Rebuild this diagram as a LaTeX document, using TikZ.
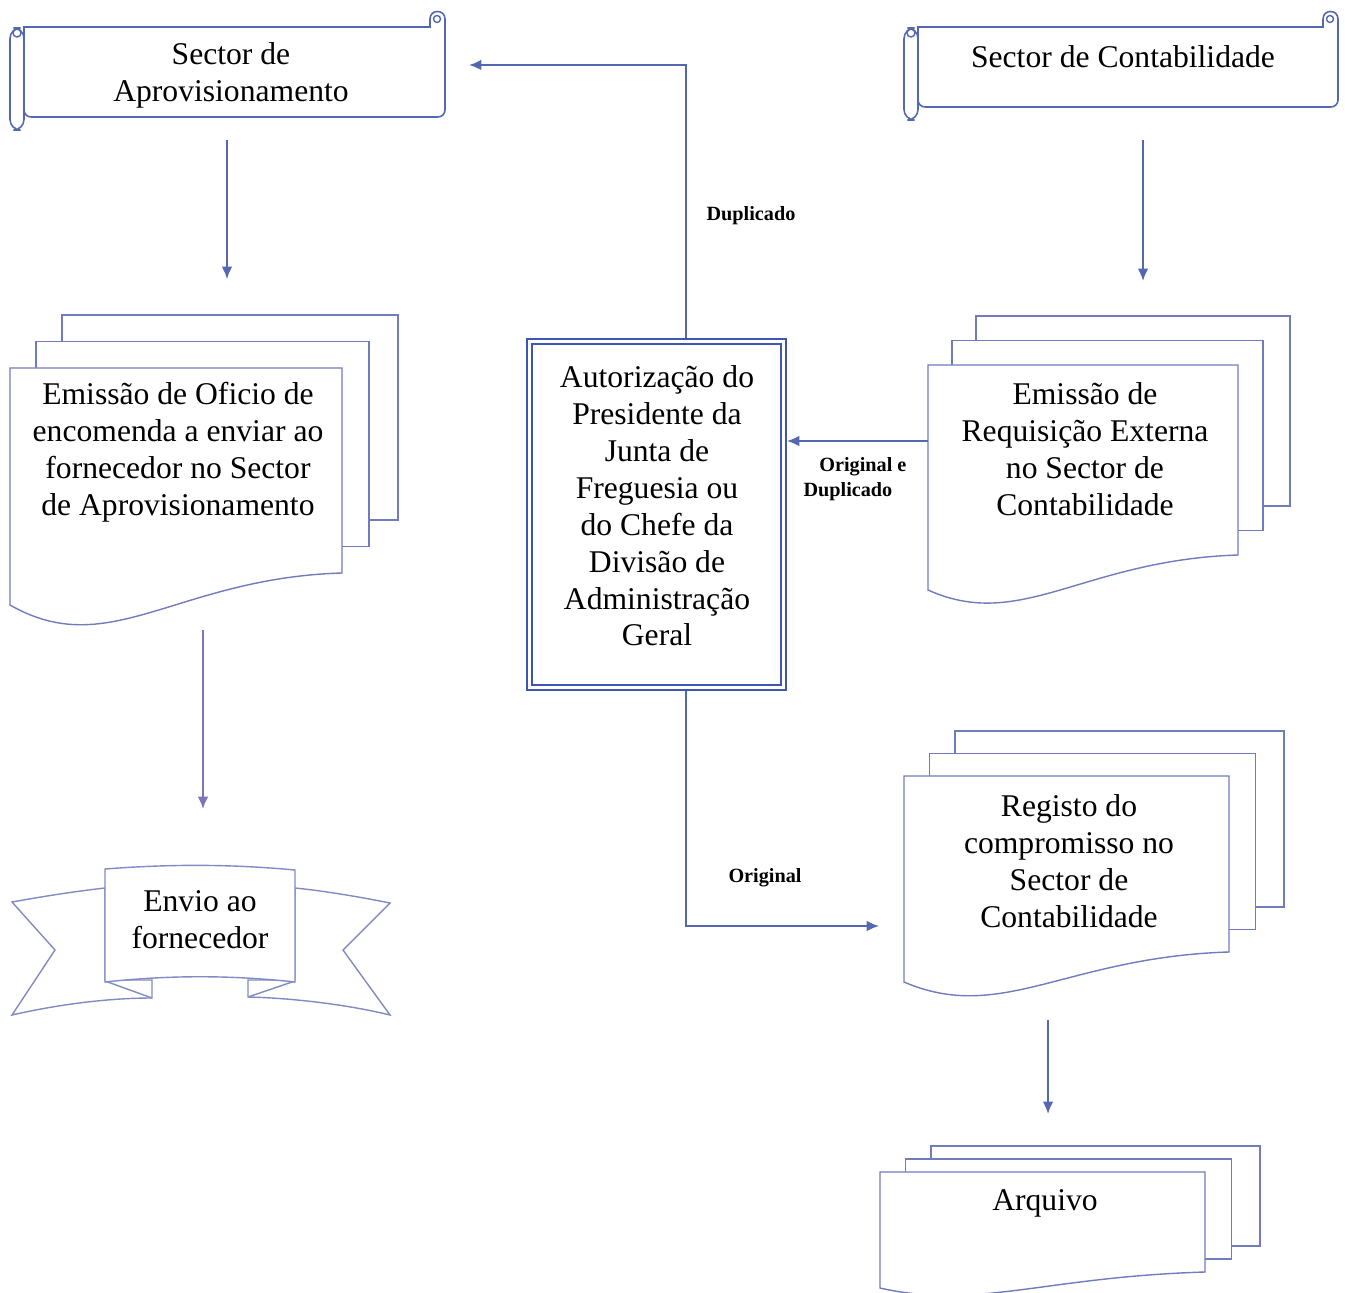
\documentclass[tikz,border=0pt]{standalone}
\usepackage{fontspec}
\setmainfont{Liberation Serif}
\usetikzlibrary{arrows.meta,calc}

\definecolor{lineblue}{RGB}{84,104,178}
\definecolor{docblue}{RGB}{112,124,190}
\definecolor{boxblue}{RGB}{62,86,178}
\definecolor{ribbonline}{RGB}{130,138,196}
\definecolor{violetline}{RGB}{128,116,184}

\tikzset{
  conn/.style={draw=lineblue, line width=1.1pt, -{Latex[length=7pt,width=6pt]}},
  docline/.style={draw=docblue, fill=white, line width=0.8pt},
  scrl/.style={draw=lineblue, fill=white, line width=0.9pt},
  ribbon/.style={draw=ribbonline, fill=white, line width=0.8pt},
  bigtext/.style={font=\fontsize{18}{21}\selectfont, align=center, inner sep=0pt},
  smalltext/.style={font=\fontsize{11.5}{14}\selectfont\bfseries, inner sep=0pt},
}

% stack of three pages: x1, ytop, x2, y bottom right, y bottom left, dx, dy, wave control y
\newcommand\docstack[8]{%
  \draw[docline] ({#1+2*#6},{#2-2*#7}) rectangle ({#3+2*#6+4},{#4-2*#7});
  \draw[docline] ({#1+#6},{#2-#7}) rectangle ({#3+#6+1},{#4-#7});
  \draw[docline] (#1,#2) -- (#3,#2) -- (#3,#4)
    .. controls ({0.5*(#1+#3)},{#4+5}) and ({#1+0.3*(#3-#1)},{#8}) .. (#1,#5) -- cycle;
}

% scroll banner: roll left x, body left x, body right x, top y, bottom y, roll bottom y
\newcommand\scrollbanner[6]{%
  \draw[scrl] (#2,#4) -- ({#3-15},#4) -- ({#3-15},{#4-8})
    .. controls ({#3-15},{#4-18}) and (#3,{#4-18}) .. (#3,{#4-8})
    [rounded corners=4] -- (#3,#5) -- (#2,#5) [sharp corners] -- cycle;
  \draw[draw=lineblue, line width=0.8pt] ({#3-8},{#4-8}) circle[radius=3.5];
  \draw[scrl, rounded corners=6] (#1,{#4+1}) rectangle (#2,#6);
  \draw[draw=lineblue, line width=0.8pt] ({0.5*(#1+#2)},{#4+6}) circle[radius=4];
}

\begin{document}
\begin{tikzpicture}[x=0.02cm, y=-0.02cm]
\useasboundingbox (0,0) rectangle (1345,1293);

% ---- header scrolls
\scrollbanner{10}{24}{445}{27}{117}{130}
\node[bigtext] (aprov) at (231,75) {Sector de\\Aprovisionamento};

\scrollbanner{904}{918}{1338}{27}{107}{120}
\node[bigtext] (contab) at (1123,57) {Sector de Contabilidade};

% ---- document stacks
\docstack{10}{368}{342}{573}{605}{26}{26.5}{662}
\node[bigtext] (oficio) at (178,452) {Emissão de Oficio de\\encomenda a enviar ao\\fornecedor no Sector\\de Aprovisionamento};

\docstack{928}{365}{1238}{555}{590}{24}{24.5}{632}
\node[bigtext] (requis) at (1085,449) {Emissão de\\Requisição Externa\\no Sector de\\Contabilidade};

\docstack{904}{776}{1229}{952}{982}{25.5}{22.5}{1024}
\node[bigtext] (registo) at (1069,861) {Registo do\\compromisso no\\Sector de\\Contabilidade};

\docstack{880}{1172}{1205}{1272}{1288}{25.5}{13}{1310}
\node[bigtext] (arquivo) at (1045,1203) {Arquivo};

% ---- authorisation box (double frame)
\node[draw=boxblue, line width=1.1pt, minimum width=5.18cm, minimum height=7.02cm, inner sep=0pt] (auth) at (656.5,514.5) {};
\draw[draw=boxblue, line width=1.1pt] ($(auth.north west)+(6,6)$) rectangle ($(auth.south east)+(-6,-6)$);
\node[bigtext] (authtext) at (657,506) {Autorização do\\Presidente da\\Junta de\\Freguesia ou\\do Chefe da\\Divisão de\\Administração\\Geral};

% ---- ribbon
\draw[ribbon] (105,888) .. controls (70,892) and (40,897) .. (12,902) -- (55,950) -- (12,1015)
  .. controls (60,1004) and (110,998) .. (152,998) -- (152,980) -- (105,980) -- cycle;
\draw[ribbon] (105,981) -- (152,998);
\draw[ribbon] (295,888) .. controls (325,891) and (360,897) .. (390,903) -- (343,950) -- (390,1015)
  .. controls (345,1004) and (290,998) .. (248,997) -- (248,980) -- (295,980) -- cycle;
\draw[ribbon] (295,981) -- (248,997);
\draw[ribbon] (105,869) .. controls (170,864) and (230,864) .. (295,870) -- (295,982)
  .. controls (230,975) and (170,975) .. (105,982) -- cycle;
\node[bigtext] (envio) at (200,920) {Envio ao\\fornecedor};

% ---- connector end points
\coordinate (aprovOut) at (227,140);
\coordinate (oficioIn) at (227,279);
\coordinate (contabOut) at (1143,140);
\coordinate (requisIn) at (1143,281);
\coordinate (oficioOut) at (203,630);
\coordinate (envioIn) at (203,809);
\coordinate (requisOut) at (928,441);
\coordinate (dupTurn) at (686,65);
\coordinate (aprovIn) at (469,65);
\coordinate (origTurn) at (686,926);
\coordinate (registoIn) at (879,926);
\coordinate (registoOut) at (1048,1020);
\coordinate (arquivoIn) at (1048,1114);

% ---- connectors
\draw[conn] (aprovOut) -- (oficioIn);
\draw[conn] (contabOut) -- (requisIn);
\draw[conn, draw=violetline] (oficioOut) -- (envioIn);
\draw[conn] (requisOut) -- (auth.east |- requisOut);
\draw[conn] (auth.north -| dupTurn) -- (dupTurn) -- (aprovIn);
\draw[conn] (auth.south -| origTurn) -- (origTurn) -- (registoIn);
\draw[conn] (registoOut) -- (arquivoIn);

% ---- connector labels
\node[smalltext] (lblDup) at (751,216) {Duplicado};
\node[smalltext, align=left] (lblOrigDup) at (855,479) {\hspace*{9pt}Original e\\Duplicado};
\node[smalltext] (lblOrig) at (765,878) {Original};
\end{tikzpicture}
\end{document}
